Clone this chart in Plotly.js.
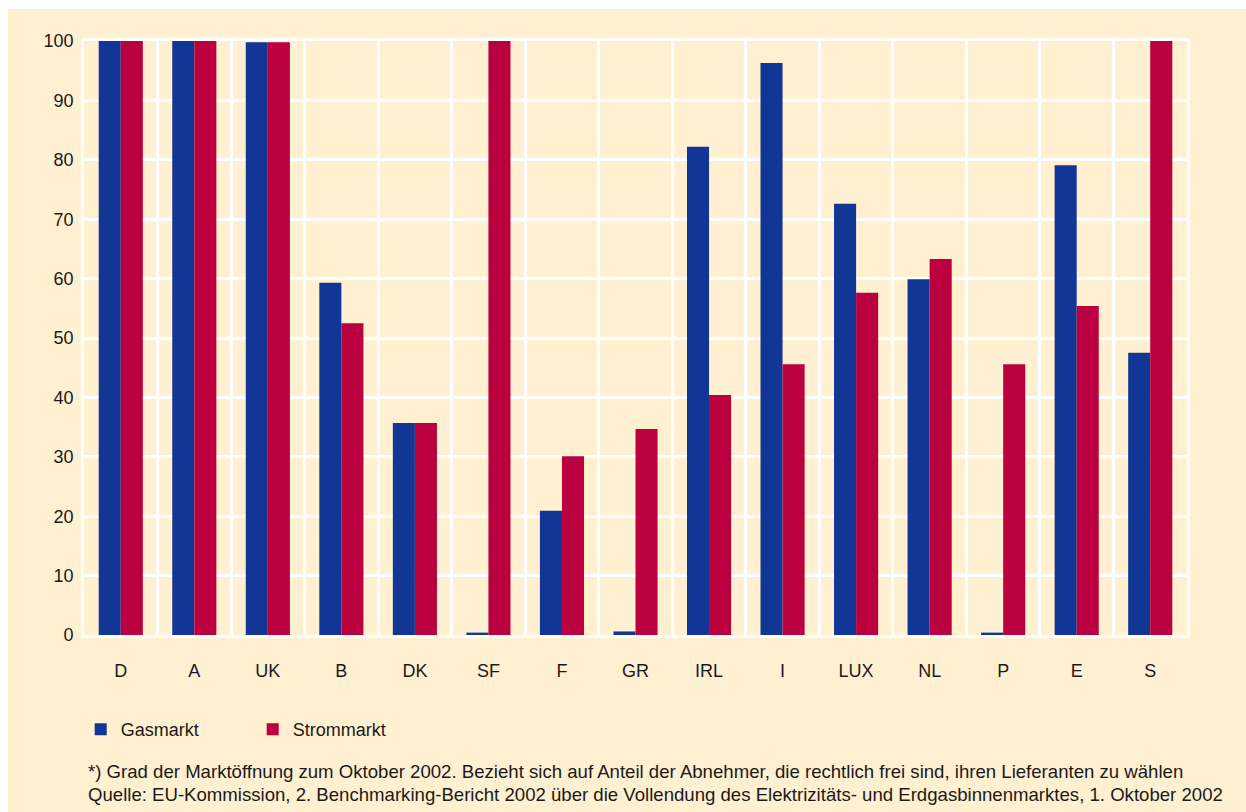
<!DOCTYPE html>
<html>
<head>
<meta charset="utf-8">
<script src="https://cdn.plot.ly/plotly-3.0.1.min.js"></script>
<style>
  html, body { margin: 0; padding: 0; background: #ffffff; }
  #chart { position: absolute; left: 8px; top: 9px; width: 1238px; height: 803px; }
</style>
</head>
<body>
<div id="chart"></div>
<script>
const categories = ["D", "A", "UK", "B", "DK", "SF", "F", "GR", "IRL", "I", "LUX", "NL", "P", "E", "S"];
const gasmarkt   = [100, 100, 99.8, 59.3, 35.7, 0.4, 20.9, 0.6, 82.2, 96.3, 72.6, 59.9, 0.4, 79.1, 47.5];
const strommarkt = [100, 100, 99.8, 52.5, 35.7, 100, 30.1, 34.7, 40.4, 45.6, 57.6, 63.3, 45.6, 55.4, 100];
const yTicks = [0, 10, 20, 30, 40, 50, 60, 70, 80, 90, 100];
const seriesNames = ["Gasmarkt", "Strommarkt"];
const footnote1 = "*) Grad der Marktöffnung zum Oktober 2002. Bezieht sich auf Anteil der Abnehmer, die rechtlich frei sind, ihren Lieferanten zu wählen";
const footnote2 = "Quelle: EU-Kommission, 2. Benchmarking-Bericht 2002 über die Vollendung des Elektrizitäts- und Erdgasbinnenmarktes, 1. Oktober 2002";

const FONT = "Liberation Sans, Arial, Helvetica, sans-serif";
const BG = "#fef0d0";
const TXT = "#1a1a1a";

const traces = [
  { type: "bar", name: seriesNames[0], x: categories, y: gasmarkt,
    marker: { color: "#123695", line: { width: 0 } }, hoverinfo: "x+y+name" },
  { type: "bar", name: seriesNames[1], x: categories, y: strommarkt,
    marker: { color: "#bb0040", line: { width: 0 } }, hoverinfo: "x+y+name" }
];

const layout = {
  width: 1238, height: 803,
  paper_bgcolor: BG, plot_bgcolor: BG,
  font: { family: FONT, size: 18, color: TXT },
  margin: { l: 76, r: 59, t: 32, b: 177, pad: 0 },
  barmode: "group", bargap: 0.4, bargroupgap: 0,
  showlegend: true,
  legend: {
    orientation: "h", x: -0.003, xanchor: "left", y: -0.128, yanchor: "top",
    bgcolor: "rgba(0,0,0,0)", font: { family: FONT, size: 18, color: TXT },
    entrywidth: 127, entrywidthmode: "pixels", traceorder: "normal"
  },
  xaxis: {
    type: "category", tickson: "boundaries", ticks: "",
    showgrid: true, gridcolor: "#ffffff", gridwidth: 2.8,
    showline: true, linecolor: "#ffffff", linewidth: 2.8, mirror: true,
    zeroline: false, ticklabelstandoff: 17,
    tickfont: { family: FONT, size: 18, color: TXT },
    range: [-0.5, 14.5]
  },
  yaxis: {
    range: [0, 100], tickvals: yTicks, ticktext: yTicks.map(String), ticks: "",
    showgrid: true, gridcolor: "#ffffff", gridwidth: 2.8,
    showline: true, linecolor: "#ffffff", linewidth: 2.8, mirror: true,
    zeroline: false, ticklabelstandoff: 4,
    tickfont: { family: FONT, size: 18, color: TXT }
  },
  annotations: [
    { xref: "paper", yref: "paper", x: 0.0018, y: -0.229, xanchor: "left", yanchor: "middle",
      text: footnote1, showarrow: false, font: { family: FONT, size: 18.6, color: TXT } },
    { xref: "paper", yref: "paper", x: 0.0018, y: -0.268, xanchor: "left", yanchor: "middle",
      text: footnote2, showarrow: false, font: { family: FONT, size: 18.6, color: TXT } }
  ]
};

Plotly.newPlot("chart", traces, layout, { displayModeBar: false });
</script>
</body>
</html>
